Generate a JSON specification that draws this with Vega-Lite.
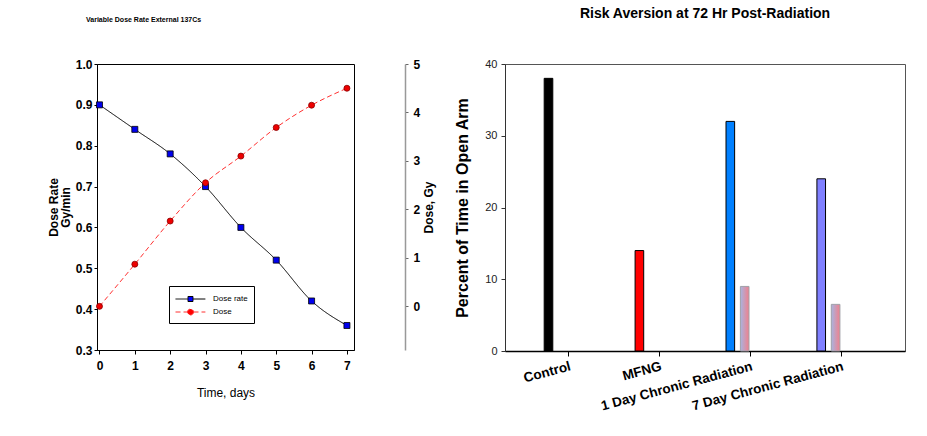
{
  "$schema": "https://vega.github.io/schema/vega-lite/v6.json",
  "padding": {"left": 46, "top": 6, "right": 0, "bottom": 0},
  "background": "white",
  "bounds": "flush",
  "spacing": 151,
  "config": {"view": {"stroke": "black", "strokeWidth": 1}, "axis": {"grid": false}},
  "datasets": {
    "timecourse": [
      {"day": 0, "series": "Dose rate", "value": 0.90},
      {"day": 1, "series": "Dose rate", "value": 0.84},
      {"day": 2, "series": "Dose rate", "value": 0.78},
      {"day": 3, "series": "Dose rate", "value": 0.70},
      {"day": 4, "series": "Dose rate", "value": 0.60},
      {"day": 5, "series": "Dose rate", "value": 0.52},
      {"day": 6, "series": "Dose rate", "value": 0.42},
      {"day": 7, "series": "Dose rate", "value": 0.36},
      {"day": 0, "series": "Dose", "value": 0.0},
      {"day": 1, "series": "Dose", "value": 0.87},
      {"day": 2, "series": "Dose", "value": 1.76},
      {"day": 3, "series": "Dose", "value": 2.55},
      {"day": 4, "series": "Dose", "value": 3.1},
      {"day": 5, "series": "Dose", "value": 3.69},
      {"day": 6, "series": "Dose", "value": 4.15},
      {"day": 7, "series": "Dose", "value": 4.5}
    ],
    "risk": [
      {"group": "Control", "sub": "main", "bar": "Control", "value": 38},
      {"group": "MFNG", "sub": "main", "bar": "MFNG", "value": 14},
      {"group": "1 Day Chronic Radiation", "sub": "main", "bar": "1 Day", "value": 32},
      {"group": "1 Day Chronic Radiation", "sub": "post", "bar": "Post", "value": 9},
      {"group": "7 Day Chronic Radiation", "sub": "main", "bar": "7 Day", "value": 24},
      {"group": "7 Day Chronic Radiation", "sub": "post", "bar": "Post", "value": 6.5}
    ]
  },
  "hconcat": [
    {
      "width": 257,
      "height": 286,
      "title": {"text": "Variable Dose Rate External 137Cs", "font": "Liberation Sans", "fontSize": 7, "fontWeight": "bold", "anchor": "start", "frame": "group", "baseline": "bottom", "offset": 28, "dx": -11, "color": "black"},
      "data": {"name": "timecourse"},
      "encoding": {
        "x": {"field": "day", "type": "quantitative", "scale": {"domain": [-0.07, 7.2], "nice": false, "zero": false},
          "axis": {"values": [0, 1, 2, 3, 4, 5, 6, 7], "tickCount": 8, "labelOverlap": false, "title": "Time, days", "labelFont": "Liberation Sans", "labelFontWeight": "bold", "labelFontSize": 12, "labelColor": "black", "tickSize": 4, "tickColor": "black", "domainColor": "black", "labelPadding": 6, "titleFont": "Liberation Sans", "titleFontWeight": "normal", "titleFontSize": 12, "titleColor": "black", "titlePadding": 16}}
      },
      "layer": [
        {
          "transform": [{"filter": "datum.series === 'Dose rate'"}],
          "encoding": {
            "y": {"field": "value", "type": "quantitative", "scale": {"domain": [0.3, 1.0], "nice": false, "zero": false},
              "axis": {"values": [0.3, 0.4, 0.5, 0.6, 0.7, 0.8, 0.9, 1.0], "labelOverlap": false, "format": ".1f", "title": ["Dose Rate", "Gy/min"], "labelFont": "Liberation Sans", "labelFontWeight": "bold", "labelFontSize": 12, "labelColor": "black", "tickSize": 3, "tickColor": "black", "domainColor": "black", "labelPadding": 2, "titleFont": "Liberation Sans", "titleFontWeight": "bold", "titleFontSize": 12, "titleColor": "black", "titlePadding": 3, "titleLineHeight": 12}}
          },
          "layer": [
            {
              "mark": {"type": "line", "interpolate": "monotone", "strokeWidth": 1},
              "encoding": {
                "color": {"field": "series", "type": "nominal", "scale": {"domain": ["Dose rate", "Dose"], "range": ["black", "#ff3030"]},
                  "legend": {"orient": "none", "legendX": 72, "legendY": 222, "title": null, "strokeColor": "black", "padding": 6, "labelFont": "Liberation Sans", "labelFontSize": 8, "labelColor": "black", "symbolSize": 169, "symbolStrokeWidth": 1, "labelOffset": 24, "rowPadding": 1,
                    "encode": {"symbols": {"update": {
                      "shape": {"signal": "datum.value === 'Dose' ? 'M-1,0H0.85M1.77,0H3.6M1.77,0A0.46,0.46,0,1,1,0.85,0A0.46,0.46,0,1,1,1.77,0Z' : 'M-1,0H0.92M1.69,0H3.6M0.92,-0.385H1.69V0.385H0.92Z'"},
                      "fill": {"signal": "datum.value === 'Dose' ? '#ff0000' : '#0000ff'"}}}}}},
                "strokeDash": {"field": "series", "type": "nominal", "scale": {"domain": ["Dose rate", "Dose"], "range": [[1, 0], [5, 3]]}}
              }
            },
            {
              "mark": {"type": "point", "shape": "square", "filled": true, "fill": "#0000ee", "stroke": "black", "strokeWidth": 0.8, "size": 36, "opacity": 1},
              "encoding": {}
            }
          ]
        },
        {
          "transform": [{"filter": "datum.series === 'Dose'"}],
          "encoding": {
            "y": {"field": "value", "type": "quantitative", "scale": {"domain": [-0.9, 5], "nice": false, "zero": false},
              "axis": {"orient": "right", "offset": 51, "values": [0, 1, 2, 3, 4, 5], "labelOverlap": false, "title": "Dose, Gy", "titleAngle": 270, "labelFont": "Liberation Sans", "labelFontWeight": "bold", "labelFontSize": 12, "labelColor": "black", "tickSize": 3, "tickColor": "#666", "domainColor": "#999", "domainWidth": 1.5, "labelPadding": 5, "titleFont": "Liberation Sans", "titleFontWeight": "bold", "titleFontSize": 12, "titleColor": "black", "titlePadding": 16}}
          },
          "layer": [
            {
              "mark": {"type": "line", "interpolate": "monotone", "strokeWidth": 1},
              "encoding": {
                "color": {"field": "series", "type": "nominal"},
                "strokeDash": {"field": "series", "type": "nominal"}
              }
            },
            {
              "mark": {"type": "point", "shape": "circle", "filled": true, "fill": "#ee0000", "stroke": "#880000", "strokeWidth": 0.8, "size": 36, "opacity": 1},
              "encoding": {}
            }
          ]
        }
      ],
      "resolve": {"scale": {"y": "independent"}}
    },
    {
      "width": 400,
      "height": 287,
      "view": {"stroke": "#555"},
      "title": {"text": "Risk Aversion at 72 Hr Post-Radiation", "font": "Liberation Sans", "fontSize": 14, "fontWeight": "bold", "anchor": "middle", "frame": "group", "baseline": "bottom", "offset": 23, "color": "black"},
      "data": {"name": "risk"},
      "encoding": {
        "x": {"field": "group", "type": "nominal", "sort": ["Control", "MFNG", "1 Day Chronic Radiation", "7 Day Chronic Radiation"],
          "scale": {"paddingInner": 0, "paddingOuter": 0.2},
          "axis": {"title": null, "labelAngle": -15, "labelAlign": "right", "labelBaseline": "top", "labelFont": "Liberation Sans", "labelFontWeight": "bold", "labelFontSize": 13.5, "labelColor": "black", "tickSize": 5, "tickColor": "black", "domainColor": "black", "domainWidth": 1.5, "labelPadding": 3}},
        "xOffset": {"field": "sub", "type": "nominal", "scale": {"domain": ["main", "post"], "range": [21, 44], "paddingInner": 0.4, "paddingOuter": 0}},
        "y": {"field": "value", "type": "quantitative", "scale": {"domain": [0, 40], "nice": false},
          "axis": {"values": [0, 10, 20, 30, 40], "title": "Percent of Time in Open Arm", "labelFont": "Liberation Sans", "labelFontSize": 11, "labelColor": "#222", "tickSize": 4, "tickColor": "#333", "domainColor": "#333", "labelPadding": 4, "titleFont": "Liberation Sans", "titleFontWeight": "bold", "titleFontSize": 16, "titleColor": "black", "titlePadding": 14}}
      },
      "layer": [
        {
          "transform": [{"filter": "datum.sub === 'main'"}],
          "mark": {"type": "bar", "stroke": "black", "strokeWidth": 1},
          "encoding": {
            "fill": {"field": "bar", "type": "nominal", "legend": null, "scale": {"domain": ["Control", "MFNG", "1 Day", "7 Day"], "range": ["#000000", "#ff0000", "#0080ff", "#8080ff"]}}
          }
        },
        {
          "transform": [{"filter": "datum.sub === 'post'"}],
          "mark": {"type": "bar", "stroke": "#a0a0a8", "strokeWidth": 1,
            "fill": {"gradient": "linear", "x1": 0, "x2": 1, "y1": 0, "y2": 0, "stops": [{"offset": 0, "color": "#a8b4e0"}, {"offset": 1, "color": "#f0808c"}]}},
          "encoding": {}
        }
      ]
    }
  ]
}
